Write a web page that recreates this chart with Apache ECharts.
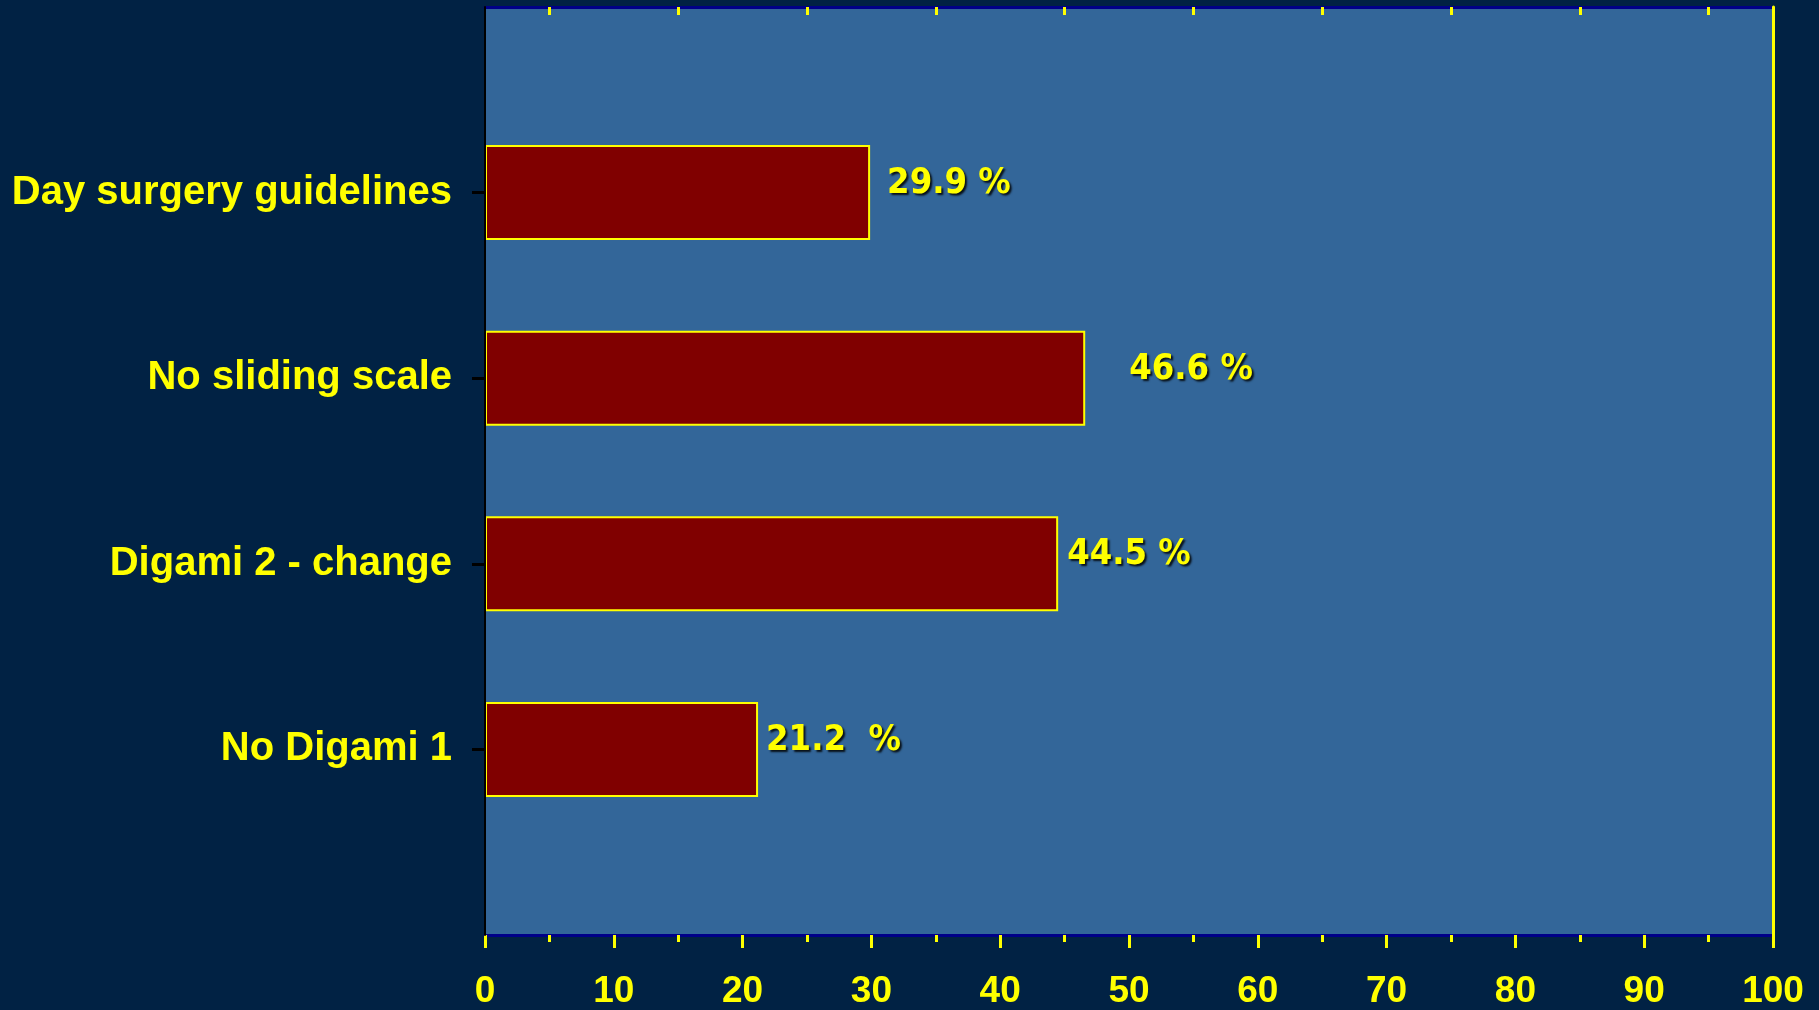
<!DOCTYPE html>
<html>
<head>
<meta charset="utf-8">
<title>Bar chart</title>
<script src="https://cdn.jsdelivr.net/npm/echarts@6/dist/echarts.min.js"></script>
<style>
  html, body { margin: 0; padding: 0; background: #012244; }
  #chart { width: 1819px; height: 1010px; }
</style>
</head>
<body>
<div id="chart"></div>
<script>
// Categories, bottom to top
const categories = ['No Digami 1', 'Digami 2 - change', 'No sliding scale', 'Day surgery guidelines'];
// Percentages per category
const values = [21.2, 44.5, 46.6, 29.9];
// Spacing between number and % sign in each value label
const labelGaps = ['  ', ' ', ' ', ' '];
// Value axis tick labels
const xTicks = [0, 10, 20, 30, 40, 50, 60, 70, 80, 90, 100];

// Horizontal nudge of each value label from its bar end (styling)
const labelNudge = [8, 9, 44, 17];

// Category axis has an empty slot at each end so bars sit on interior ticks
const yCats = [''].concat(categories, ['']);
const barData = [null].concat(values.map((v, i) => ({
  value: v,
  label: { offset: [labelNudge[i], -9] }
})), [null]);

const FONT = '"Liberation Sans", Arial, sans-serif';
const NARROW = '"DejaVu Sans Condensed", "Liberation Sans Narrow", "Arial Narrow", sans-serif';
const YELLOW = '#FFFF00';

const chart = echarts.init(document.getElementById('chart'), null, { renderer: 'canvas' });
chart.setOption({
  backgroundColor: '#012244',
  animation: false,
  grid: {
    left: 485, top: 7, right: 46, bottom: 75,
    show: true, backgroundColor: '#336699', borderWidth: 0
  },
  xAxis: [
    {
      type: 'value', position: 'bottom',
      min: xTicks[0], max: xTicks[xTicks.length - 1], interval: 10,
      axisLine: { show: true, onZero: false, lineStyle: { color: '#000088', width: 3 } },
      axisTick: { show: true, length: 13, lineStyle: { color: YELLOW, width: 3 } },
      minorTick: { show: true, splitNumber: 2, length: 7, lineStyle: { color: YELLOW, width: 3 } },
      splitLine: { show: false },
      axisLabel: {
        color: YELLOW, fontFamily: FONT, fontWeight: 'bold', fontSize: 37, margin: 38,
        formatter: v => xTicks.includes(v) ? String(v) : ''
      }
    },
    {
      type: 'value', position: 'top',
      min: xTicks[0], max: xTicks[xTicks.length - 1], interval: 10,
      axisLine: { show: true, onZero: false, lineStyle: { color: '#000088', width: 3 } },
      axisTick: {
        show: true, inside: true, length: 8,
        customValues: [5, 15, 25, 35, 45, 55, 65, 75, 85, 95],
        lineStyle: { color: YELLOW, width: 3 }
      },
      splitLine: { show: false },
      axisLabel: { show: false }
    }
  ],
  yAxis: [
    {
      type: 'category', data: yCats, boundaryGap: false, position: 'left',
      axisLine: { show: true, onZero: false, lineStyle: { color: '#000000', width: 2 } },
      axisTick: {
        show: true, length: 13, lineStyle: { color: '#000000', width: 3 },
        interval: (i, v) => v !== ''
      },
      axisLabel: {
        color: YELLOW, fontFamily: FONT, fontWeight: 'bold', fontSize: 40, margin: 33,
        interval: 0
      },
      splitLine: { show: false },
      z: 5
    },
    {
      type: 'category', data: yCats, boundaryGap: false, position: 'right',
      axisLine: { show: true, onZero: false, lineStyle: { color: YELLOW, width: 3 } },
      axisTick: { show: false },
      axisLabel: { show: false },
      splitLine: { show: false },
      z: 5
    }
  ],
  series: [
    {
      type: 'bar',
      xAxisIndex: 0, yAxisIndex: 0,
      data: barData,
      barWidth: 95,
      itemStyle: { color: '#800000', borderColor: YELLOW, borderWidth: 2 },
      label: {
        show: true, position: 'right', distance: 0,
        color: YELLOW, fontFamily: NARROW, fontWeight: 'bold', fontSize: 36,
        textShadowColor: 'rgba(0,0,0,0.85)', textShadowBlur: 2,
        textShadowOffsetX: 2, textShadowOffsetY: 2,
        formatter: p => p.value.toFixed(1) + labelGaps[p.dataIndex - 1] + '%'
      }
    }
  ]
});
</script>
</body>
</html>
